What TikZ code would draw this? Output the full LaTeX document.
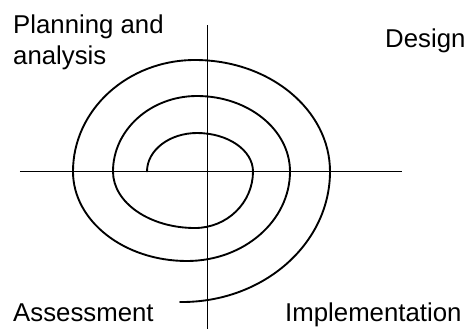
\documentclass[tikz,border=0pt]{standalone}
\usepackage{fontspec}
\setmainfont{Liberation Sans}
\begin{document}
\begin{tikzpicture}[scale=0.03, every node/.style={font=\fontsize{22}{26.5}\selectfont}]
  \tikzstyle{phase}=[inner sep=0pt,align=left]
  \tikzstyle{axis}=[line width=1pt]
  \tikzstyle{spiral}=[line width=1.6pt,line cap=round]
  \useasboundingbox (0,0) rectangle (466,329);
  % axes
  \coordinate (west) at (20,157.5);
  \coordinate (east) at (402,157.5);
  \coordinate (north) at (207,304);
  \coordinate (south) at (207,0);
  \draw[axis] (west) -- (east);
  \draw[axis,line width=0.7pt] (north) -- (south);
  % the spiral, quarter by quarter
  \coordinate (start) at (147,157.5);
  \draw[spiral] (start)
    arc[start angle=180,end angle=90,x radius=50,y radius=38.5]
    arc[start angle=90,end angle=0,x radius=56,y radius=38.5]
    arc[start angle=0,end angle=-90,x radius=58,y radius=56.5]
    arc[start angle=-90,end angle=-180,x radius=82,y radius=56.5]
    arc[start angle=180,end angle=90,x radius=84,y radius=75.5]
    arc[start angle=90,end angle=0,x radius=93,y radius=75.5]
    arc[start angle=0,end angle=-90,x radius=103,y radius=89.5]
    arc[start angle=-90,end angle=-180,x radius=114,y radius=89.5]
    arc[start angle=180,end angle=90,x radius=122,y radius=111.5]
    arc[start angle=90,end angle=0,x radius=135,y radius=111.5]
    arc[start angle=0,end angle=-90,x radius=148,y radius=130.5]
    coordinate (finish) -- ++(-2,0);
  % phase labels
  \node[phase,anchor=north west] (plan) at (13,314) {Planning and\\analysis};
  \node[phase,anchor=base west] (design) at (385,281) {Design};
  \node[phase,anchor=base west] (assess) at (13,7) {Assessment};
  \node[phase,anchor=base west] (impl) at (285,7) {Implementation};
\end{tikzpicture}
\end{document}
